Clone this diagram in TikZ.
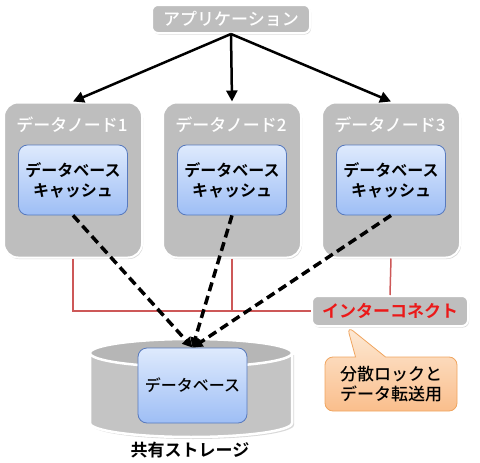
\documentclass[tikz,border=0pt]{standalone}
\usepackage{fontspec}
\setmainfont{Noto Sans CJK JP}[BoldFont={Noto Sans CJK JP Bold}]
\newfontfamily\medfont{Noto Sans CJK JP Medium}
\usepackage{tikz}
\usetikzlibrary{arrows.meta}
\usetikzlibrary{shadows,shapes.callouts,positioning}
\definecolor{boxgray}{RGB}{190,190,190}
\definecolor{cylgray}{RGB}{196,196,196}
\definecolor{cyltop}{RGB}{182,182,182}
\definecolor{bluetop}{RGB}{222,234,253}
\definecolor{bluebot}{RGB}{158,190,245}
\definecolor{blueline}{RGB}{88,122,190}
\definecolor{linkred}{RGB}{205,88,88}
\definecolor{icred}{RGB}{235,25,25}
\definecolor{notetop}{RGB}{253,234,214}
\definecolor{notebot}{RGB}{250,190,140}
\definecolor{noteline}{RGB}{240,165,95}

\begin{document}
\begin{tikzpicture}[x=1pt,y=-1pt]
  \tikzset{graybox/.style = {rounded corners=8pt, fill=boxgray, draw=white, line width=2pt, drop shadow={opacity=0.3,shadow xshift=1pt,shadow yshift=-1.5pt}}}
  \tikzset{datanode/.style = {graybox, minimum width=138pt, minimum height=155pt, rounded corners=14pt}}
  \tikzset{cachebox/.style = {rounded corners=9pt, draw=blueline, line width=0.8pt, top color=bluetop, bottom color=bluebot, minimum width=109pt, minimum height=70pt, align=center, font=\bfseries\fontsize{16}{20}\selectfont}}
  \tikzset{nodelabel/.style = {text=white, font=\medfont\fontsize{17}{19}\selectfont}}
  \tikzset{edge/.style = {-{Triangle[length=11pt,width=11pt]}, line width=2.5pt}}
  \tikzset{access/.style = {-{Triangle[length=10pt,width=10pt]}, line width=3.5pt, dash pattern=on 9pt off 5pt}}
  \tikzset{link/.style = {draw=linkred, line width=1.5pt}}

  \useasboundingbox (0,0) rectangle (480,463);

  \fill[black, opacity=0.15] (92,355) -- (92,425) arc[start angle=180, end angle=360, x radius=101pt, y radius=14pt] -- (294,355) -- cycle;
  \fill[cylgray] (90,353) -- (90,423) arc[start angle=180, end angle=360, x radius=101pt, y radius=14pt] -- (292,353) -- cycle;
  \draw[white, line width=2.5pt] (90,353) -- (90,423) arc[start angle=180, end angle=360, x radius=101pt, y radius=14pt] -- (292,353);
  \filldraw[fill=cyltop, draw=white, line width=2.5pt] (191,353) ellipse [x radius=101pt, y radius=14pt];

  \node[cachebox, font=\medfont\fontsize{16}{19}\selectfont, minimum height=75pt] (DB) at (192.5,385.5) {データベース};
  \node[font=\bfseries\fontsize{17}{19}\selectfont] (ST) at (190,450) {共有ストレージ};

  \node[graybox, rounded corners=6pt, minimum width=158pt, minimum height=28pt, nodelabel] (APP) at (231,19) {アプリケーション};

  \foreach \n/\x in {1/73, 2/232, 3/391} {
    \node[datanode] (DN\n) at (\x,180) {};
    \node[nodelabel] (L\n) at (\x-1,125) {データノード\n};
    \node[cachebox] (C\n) at (\x,180) {データベース\\キャッシュ};
  }

  \node[graybox, rounded corners=6pt, minimum width=156pt, minimum height=30pt, text=icred, font=\bfseries\fontsize{17}{19}\selectfont] (IC) at (390,311) {インターコネクト};

  \draw[link] (DN1.south) |- (IC.west);
  \draw[link] (DN2.south) -- (DN2.south |- IC.west);
  \draw[link] (DN3.south) -- (IC.north);

  \foreach \to in {DN1, DN2, DN3}
    \draw[edge] (APP.south) -- (\to.north);

  \foreach \from in {C1, C2, C3}
    \draw[access] (\from.south) -- (DB.north);

  \node[rectangle callout, callout absolute pointer={(347,326)}, callout pointer width=30pt, rounded corners=8pt, draw=noteline, line width=0.8pt, top color=notetop, bottom color=notebot, minimum width=132pt, minimum height=54pt, align=center, font=\medfont\fontsize{17}{20}\selectfont] (NOTE) at (391,384) {分散ロックと\\データ転送用};
\end{tikzpicture}
\end{document}
